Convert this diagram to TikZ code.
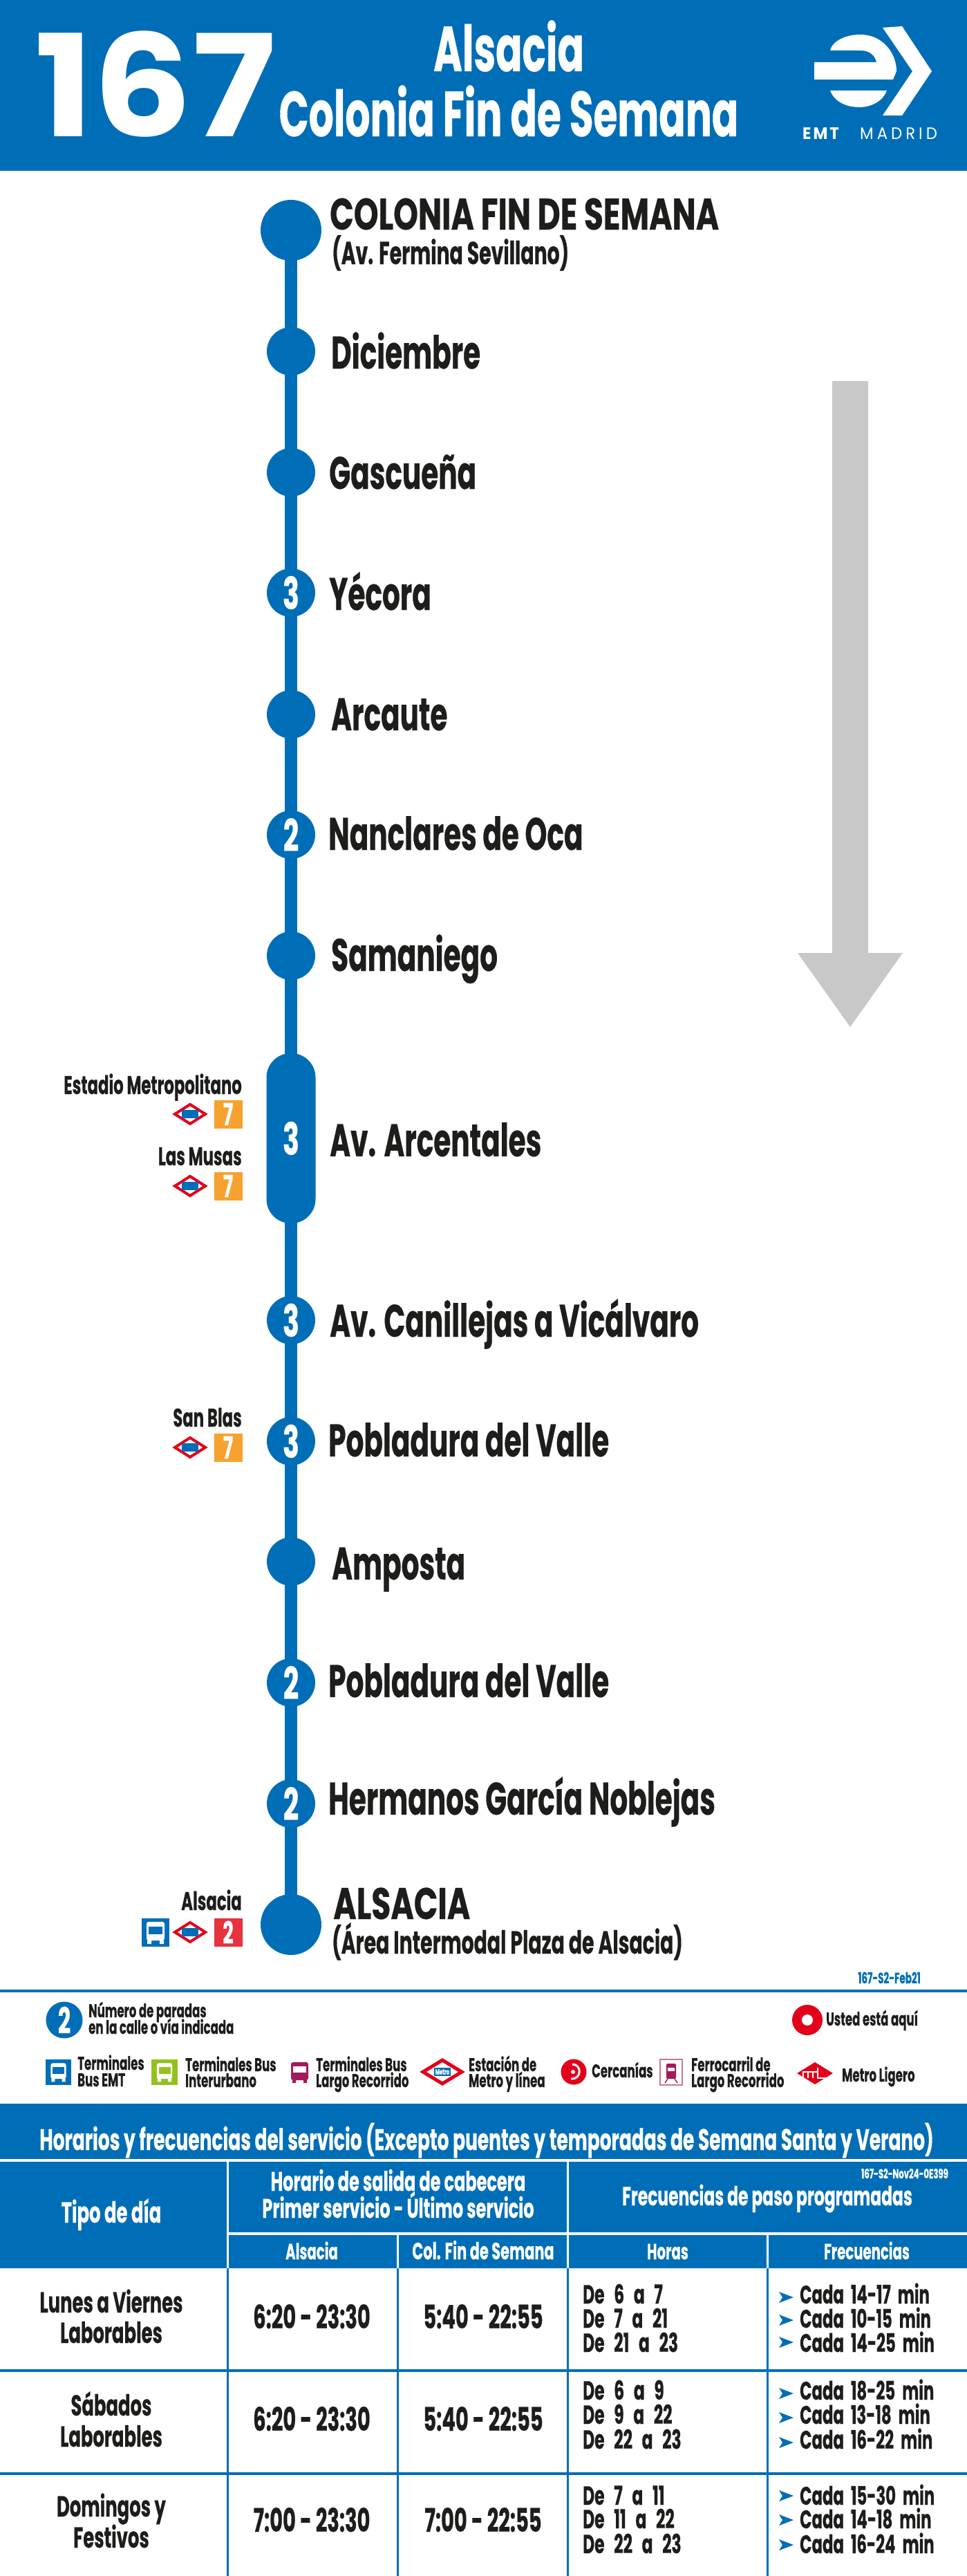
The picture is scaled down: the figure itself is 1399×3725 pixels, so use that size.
\documentclass[tikz,border=0pt]{standalone}
\usepackage{fontspec}
\newfontfamily\emtfont[FakeStretch=0.615,BoldFeatures={FakeBold=0.4}]{Poppins}
\newfontfamily\capfont[FakeStretch=0.71,BoldFeatures={FakeBold=0.4}]{Poppins}
\newfontfamily\numfont[FakeStretch=1.1]{Poppins}
\newfontfamily\logofont[FakeStretch=0.95]{Poppins}
\definecolor{emtblue}{RGB}{0,110,183}
\definecolor{ink}{RGB}{29,29,27}
\definecolor{arrowgray}{RGB}{200,200,200}
\definecolor{metrored}{RGB}{226,0,26}
\definecolor{boxorange}{RGB}{247,161,47}
\definecolor{boxred}{RGB}{230,51,63}
\definecolor{busgreen}{RGB}{149,193,31}
\definecolor{buspurple}{RGB}{163,25,91}
\newcommand{\emtsize}[1]{\fontsize{#1}{#1}\selectfont\emtfont\bfseries}
\tikzset{
  routeline/.style={line width=18,emtblue},
  stopdot/.style={circle,fill=emtblue,inner sep=0,minimum size=70,text=white,font=\emtsize{64}},
  enddot/.style={circle,fill=emtblue,inner sep=0,minimum size=88},
  stoplabel/.style={anchor=base west,inner sep=0,text=ink,font=\emtsize{66}},
  endname/.style={anchor=base west,inner sep=0,text=ink,font=\fontsize{64}{64}\selectfont\capfont\bfseries},
  endsub/.style={anchor=base west,inner sep=0,text=ink,font=\emtsize{46}},
  metrolabel/.style={anchor=base east,inner sep=0,text=ink,font=\emtsize{37}},
  linebox/.style={minimum size=41,inner sep=0,text=white,font=\emtsize{44}},
  legendtext/.style={anchor=base west,inner sep=0,text=ink,font=\emtsize{27}},
  headtext/.style={anchor=base,inner sep=0,text=white,font=\emtsize{38}},
  subhead/.style={anchor=base,inner sep=0,text=white,font=\emtsize{32}},
  celltext/.style={anchor=base,inner sep=0,text=ink,font=\emtsize{42}},
  timetext/.style={anchor=base,inner sep=0,text=ink,font=\emtsize{47}},
  slottext/.style={anchor=base west,inner sep=0,text=ink,font={\emtsize{38}\spaceskip=.36em}},
  cadatext/.style={anchor=base west,inner sep=0,text=ink,font={\emtsize{37}\spaceskip=.27em}},
  tablerule/.style={line width=4,emtblue},
  headrule/.style={line width=4,white},
  metrosign/.pic={
    \draw[fill=white,draw=metrored,line width=4] (-22,0) -- (0,-14) -- (22,0) -- (0,14) -- cycle;
    \fill[emtblue] (-12,-6) rectangle (12,6);
  },
  busicon/.pic={
    \fill[white,rounded corners=3pt] (-13,-15) rectangle (13,12);
    \fill[pic actions] (-10,-8) rectangle (10,3);
    \fill[white] (-12,12) rectangle (-6,17) (6,12) rectangle (12,17);
  },
  freqarrow/.pic={
    \fill[emtblue] (0,-8) -- (21,0) -- (0,8) -- (5,0) -- cycle;
  }
}
\begin{document}
\begin{tikzpicture}[x=1pt,y=-1pt]
    \useasboundingbox (0,0) rectangle (1399,3725);
    %% Header
    \fill[emtblue] (0,0) rectangle (1399,247);
    \node[anchor=base west,inner sep=0,text=white,font=\fontsize{205}{205}\selectfont\numfont\bfseries] (num) at (50,197) {167};
    \node[anchor=base,inner sep=0,text=white,font=\emtsize{92}] (headA) at (736,103) {Alsacia};
    \node[anchor=base,inner sep=0,text=white,font=\emtsize{92}] (headB) at (736,197) {Colonia Fin de Semana};
    %% Logo
    \fill[white] (1277,40) -- (1305,38) -- (1348,103) -- (1305,167) -- (1277,167) -- (1320,103) -- cycle;
    \fill[white] (1201,73) .. controls (1205,58) and (1225,50) .. (1245,50) .. controls (1275,50) and (1297,75) .. (1297,103) -- (1292,115) -- (1178,115) -- (1178,90) -- (1268,90) .. controls (1266,80) and (1258,73) .. (1245,73) -- cycle;
    \fill[white] (1201,131) -- (1283,131) .. controls (1278,145) and (1262,155) .. (1243,155) .. controls (1222,155) and (1206,145) .. (1201,131) -- cycle;
    \node[anchor=base west,inner sep=0,text=white,font=\fontsize{24}{24}\selectfont\logofont\bfseries] (emt) at (1161,202) {E\kern3pt M\kern3pt T};
    \node[anchor=base west,inner sep=0,text=white,font=\fontsize{24}{24}\selectfont\logofont] (madrid) at (1244,202) {M\kern5pt A\kern5pt D\kern5pt R\kern5pt I\kern5pt D};
    %% Direction arrow
    \fill[arrowgray] (1204,551) -- (1256,551) -- (1256,1378) -- (1306,1378) -- (1230,1485) -- (1154,1378) -- (1204,1378) -- cycle;
    %% Stops
    \coordinate (s0) at (421,333);
    \coordinate (s14) at (421,2783);
    \draw[routeline] (s0) -- (s14);
    \node[enddot] (a0) at (s0) {};
    \node[stopdot] (a1) at (421,508) {};
    \node[stopdot] (a2) at (421,683) {};
    \node[stopdot] (a3) at (421,857) {3};
    \node[stopdot] (a4) at (421,1033) {};
    \node[stopdot] (a5) at (421,1207) {2};
    \node[stopdot] (a6) at (421,1382) {};
    \node[stopdot,rectangle,rounded corners=35pt,minimum width=71,minimum height=246] (a7) at (421,1646) {3};
    \node[stopdot] (a8) at (421,1909) {3};
    \node[stopdot] (a9) at (421,2084) {3};
    \node[stopdot] (a10) at (421,2258) {};
    \node[stopdot] (a11) at (421,2433) {2};
    \node[stopdot] (a12) at (421,2608) {2};
    \node[enddot] (a13) at (s14) {};
    %% Stop names
    \node[endname] (n0) at (477,332) {COLONIA FIN DE SEMANA};
    \node[endsub] (n0b) at (480,382) {(Av. Fermina Sevillano)};
    \node[stoplabel] (n1) at (479,533) {Diciembre};
    \node[stoplabel] (n2) at (476,707) {Gascueña};
    \node[stoplabel] (n3) at (476,882) {Yécora};
    \node[stoplabel] (n4) at (479,1056) {Arcaute};
    \node[stoplabel] (n5) at (475,1229) {Nanclares de Oca};
    \node[stoplabel] (n6) at (479,1404) {Samaniego};
    \node[stoplabel] (n7) at (477,1672) {Av. Arcentales};
    \node[stoplabel] (n8) at (477,1933) {Av. Canillejas a Vicálvaro};
    \node[stoplabel] (n9) at (475,2106) {Pobladura del Valle};
    \node[stoplabel] (n10) at (480,2284) {Amposta};
    \node[stoplabel] (n11) at (475,2454) {Pobladura del Valle};
    \node[stoplabel] (n12) at (475,2624) {Hermanos García Noblejas};
    \node[endname] (n13) at (482,2775) {ALSACIA};
    \node[endsub] (n13b) at (480,2825) {(Área Intermodal Plaza de Alsacia)};
    %% Metro stations
    \node[metrolabel] (m1) at (350,1582) {Estadio Metropolitano};
    \node[linebox,fill=boxorange] (b1) at (330,1611) {7};
    \pic at (275,1611) {metrosign};
    \node[metrolabel] (m2) at (350,1685) {Las Musas};
    \node[linebox,fill=boxorange] (b2) at (330,1715) {7};
    \pic at (275,1715) {metrosign};
    \node[metrolabel] (m3) at (350,2063) {San Blas};
    \node[linebox,fill=boxorange] (b3) at (330,2093) {7};
    \pic at (275,2093) {metrosign};
    \node[metrolabel] (m4) at (350,2762) {Alsacia};
    \node[linebox,fill=boxred] (b4) at (330,2794) {2};
    \pic at (275,2794) {metrosign};
    \fill[emtblue] (205,2774) rectangle (245,2815);
    \pic[emtblue] at (225,2794) {busicon};
    \node[anchor=base east,inner sep=0,text=emtblue,font=\emtsize{22}] (ver) at (1332,2868) {167-S2-Feb21};
    %% Legend
    \draw[tablerule] (0,2879) -- (1399,2879);
    \node[circle,fill=emtblue,inner sep=0,minimum size=53,text=white,font=\emtsize{52}] (l2) at (93,2921) {2};
    \node[legendtext] (lt1) at (128,2917) {Número de paradas};
    \node[legendtext] (lt2) at (128,2941) {en la calle o vía indicada};
    \node[circle,fill=metrored,inner sep=0,minimum size=44] (here) at (1168,2921) {};
    \fill[white] (here) circle (8);
    \node[legendtext] (hereT) at (1195,2929) {Usted está aquí};
    %% Legend icons
    \fill[emtblue] (66,2978) rectangle (103,3015);
    \pic[emtblue,scale=.85] at (84.5,2996) {busicon};
    \node[legendtext] (i1) at (112,2993) {Terminales};
    \node[legendtext] (i1b) at (112,3017) {Bus EMT};
    \fill[busgreen] (219,2978) rectangle (257,3015);
    \pic[busgreen,scale=.85] at (238,2996) {busicon};
    \node[legendtext] (i2) at (268,2995) {Terminales Bus};
    \node[legendtext] (i2b) at (268,3018) {Interurbano};
    \fill[buspurple,rounded corners=3pt] (421,2982) rectangle (446,3008);
    \fill[white] (424,2988) rectangle (443,2997);
    \fill[buspurple] (423,3008) rectangle (428,3012) (439,3008) rectangle (444,3012);
    \node[legendtext] (i3) at (457,2995) {Terminales Bus};
    \node[legendtext] (i3b) at (457,3018) {Largo Recorrido};
    \draw[fill=white,draw=metrored,line width=5] (612,2996) -- (640,2979) -- (668,2996) -- (640,3013) -- cycle;
    \node[fill=emtblue,inner sep=2pt,text=white,font=\emtsize{11}] (i4m) at (640,2996) {Metro};
    \node[legendtext] (i4) at (678,2995) {Estación de};
    \node[legendtext] (i4b) at (678,3018) {Metro y línea};
    \node[circle,fill=metrored,inner sep=0,minimum size=37] (i5c) at (830,2996) {};
    \draw[white,line width=3] (828,2985) .. controls (842,2985) and (842,3007) .. (826,3006);
    \fill[white] (829,2996) circle (3);
    \node[legendtext] (i5) at (856,3004) {Cercanías};
    \draw[buspurple!60,line width=2,fill=white] (955,2978) rectangle (987,3015);
    \fill[buspurple,rounded corners=2pt] (964,2984) rectangle (978,3006);
    \fill[white] (966,2990) rectangle (976,2995);
    \draw[buspurple,line width=1.5] (966,3006) -- (962,3012) (976,3006) -- (980,3012);
    \node[legendtext] (i6) at (1000,2995) {Ferrocarril de};
    \node[legendtext] (i6b) at (1000,3018) {Largo Recorrido};
    \fill[metrored] (1153,2998) -- (1179,2982) -- (1205,2998) -- (1179,3014) -- cycle;
    \draw[white,line width=2] (1162,3005) -- (1162,2996) -- (1183,2996) (1169,3005) -- (1169,2996) (1176,3005) -- (1176,2996) (1183,2990) -- (1183,3005) -- (1197,3005);
    \node[legendtext] (i7) at (1218,3010) {Metro Ligero};
    %% Table head
    \fill[emtblue] (0,3042) rectangle (1399,3280);
    \draw[headrule] (0,3124) -- (1399,3124);
    \draw[headrule,line width=3] (329,3124) -- (329,3280);
    \draw[headrule,line width=3] (821.5,3124) -- (821.5,3280);
    \draw[headrule] (329,3230) -- (1399,3230);
    \draw[headrule,line width=3] (575.5,3230) -- (575.5,3280);
    \draw[headrule,line width=3] (1110.5,3230) -- (1110.5,3280);
    \node[headtext,font=\emtsize{43}] (t0) at (704,3109) {Horarios y frecuencias del servicio (Excepto puentes y temporadas de Semana Santa y Verano)};
    \node[headtext,font=\emtsize{42}] (t1) at (161,3214) {Tipo de día};
    \node[headtext,font=\emtsize{39}] (t2) at (576,3168) {Horario de salida de cabecera};
    \node[headtext,font=\emtsize{39}] (t3) at (576,3207) {Primer servicio - Último servicio};
    \node[anchor=base east,inner sep=0,text=white,font=\emtsize{19}] (t4) at (1372,3150) {167-S2-Nov24-0E399};
    \node[headtext] (t5) at (1110,3189) {Frecuencias de paso programadas};
    \node[subhead] (t6) at (451,3267) {Alsacia};
    \node[subhead,font=\emtsize{34}] (t7) at (699,3267) {Col. Fin de Semana};
    \node[subhead] (t8) at (966,3267) {Horas};
    \node[subhead] (t9) at (1254,3267) {Frecuencias};
    %% Table body
    \draw[tablerule] (0,3428) -- (1399,3428);
    \draw[tablerule] (0,3577) -- (1399,3577);
    \draw[tablerule,line width=3] (329,3280) -- (329,3725);
    \draw[tablerule,line width=3] (575.5,3280) -- (575.5,3725);
    \draw[tablerule,line width=3] (821.5,3280) -- (821.5,3725);
    \draw[tablerule,line width=3] (1110.5,3280) -- (1110.5,3725);
    %% Row 1
    \node[celltext] (r1a) at (161,3344) {Lunes a Viernes};
    \node[celltext] (r1b) at (161,3388) {Laborables};
    \node[timetext] (r1c) at (451,3367) {6:20 - 23:30};
    \node[timetext] (r1d) at (699,3367) {5:40 - 22:55};
    \node[slottext] (r1e) at (843,3331) {De 6 a 7};
    \node[slottext] (r1f) at (843,3366) {De 7 a 21};
    \node[slottext] (r1g) at (843,3401) {De 21 a 23};
    \pic at (1127,3322) {freqarrow};
    \pic at (1127,3355) {freqarrow};
    \pic at (1127,3387) {freqarrow};
    \node[cadatext] (r1h) at (1157,3331) {Cada 14-17 min};
    \node[cadatext] (r1i) at (1157,3366) {Cada 10-15 min};
    \node[cadatext] (r1j) at (1157,3401) {Cada 14-25 min};
    %% Row 2
    \node[celltext] (r2a) at (161,3493) {Sábados};
    \node[celltext] (r2b) at (161,3538) {Laborables};
    \node[timetext] (r2c) at (451,3515) {6:20 - 23:30};
    \node[timetext] (r2d) at (699,3515) {5:40 - 22:55};
    \node[slottext] (r2e) at (843,3470) {De 6 a 9};
    \node[slottext] (r2f) at (843,3505) {De 9 a 22};
    \node[slottext] (r2g) at (843,3541) {De 22 a 23};
    \pic at (1127,3461) {freqarrow};
    \pic at (1127,3496) {freqarrow};
    \pic at (1127,3532) {freqarrow};
    \node[cadatext] (r2h) at (1157,3470) {Cada 18-25 min};
    \node[cadatext] (r2i) at (1157,3505) {Cada 13-18 min};
    \node[cadatext] (r2j) at (1157,3541) {Cada 16-22 min};
    %% Row 3
    \node[celltext] (r3a) at (161,3639) {Domingos y};
    \node[celltext] (r3b) at (161,3684) {Festivos};
    \node[timetext] (r3c) at (451,3661) {7:00 - 23:30};
    \node[timetext] (r3d) at (699,3661) {7:00 - 22:55};
    \node[slottext] (r3e) at (843,3622) {De 7 a 11};
    \node[slottext] (r3f) at (843,3656) {De 11 a 22};
    \node[slottext] (r3g) at (843,3692) {De 22 a 23};
    \pic at (1127,3609) {freqarrow};
    \pic at (1127,3644) {freqarrow};
    \pic at (1127,3680) {freqarrow};
    \node[cadatext] (r3h) at (1157,3622) {Cada 15-30 min};
    \node[cadatext] (r3i) at (1157,3656) {Cada 14-18 min};
    \node[cadatext] (r3j) at (1157,3692) {Cada 16-24 min};
\end{tikzpicture}
\end{document}
